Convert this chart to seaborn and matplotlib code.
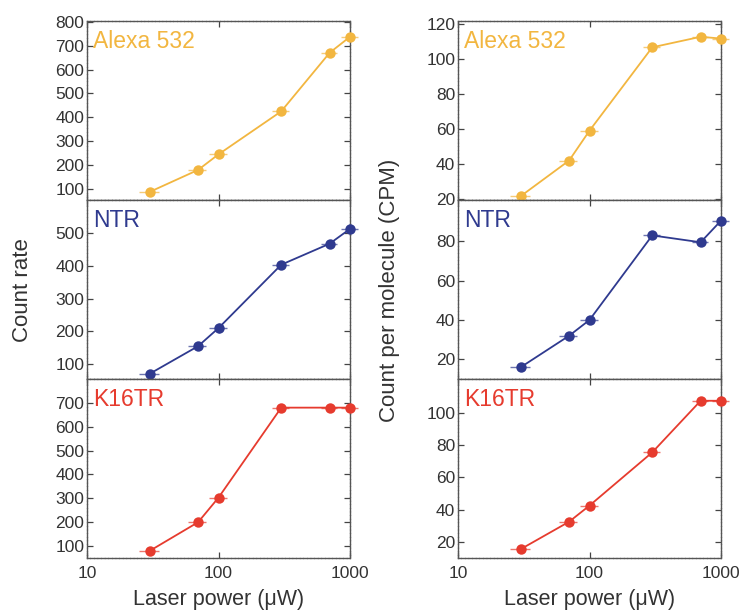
import matplotlib
matplotlib.use("Agg")
import matplotlib.pyplot as plt
import matplotlib.ticker as mticker
import seaborn as sns
import pandas as pd

# laser power (uW) and horizontal error
power = [30, 70, 100, 300, 700, 1000]
power_err = [5, 11, 16, 45, 100, 150]

dyes = ["Alexa 532", "NTR", "K16TR"]
colors = {"Alexa 532": "#f2b640", "NTR": "#2f3a8f", "K16TR": "#e63b2e"}

# count rate (left column)
rate_alexa = [88, 180, 245, 425, 670, 737]
rate_ntr = [71, 155, 210, 403, 467, 512]
rate_k16 = [80, 200, 303, 680, 680, 680]
rate_err_alexa = [5, 8, 8, 8, 10, 10]
rate_err_ntr = [6, 8, 16, 8, 8, 18]
rate_err_k16 = [6, 10, 10, 8, 8, 8]

# count per molecule (right column)
cpm_alexa = [21.7, 42, 59, 106.5, 112.5, 111.5]
cpm_ntr = [16, 32, 40, 83, 79.5, 90.5]
cpm_k16 = [15.5, 32.5, 42.5, 75.5, 107.5, 107.5]
cpm_err_alexa = [0.8, 1, 2, 1, 2, 1]
cpm_err_ntr = [1, 1, 1.5, 1.5, 1.5, 1.5]
cpm_err_k16 = [1, 1.5, 1.5, 1, 1, 1]

rate = {"Alexa 532": rate_alexa, "NTR": rate_ntr, "K16TR": rate_k16}
rate_err = {"Alexa 532": rate_err_alexa, "NTR": rate_err_ntr, "K16TR": rate_err_k16}
cpm = {"Alexa 532": cpm_alexa, "NTR": cpm_ntr, "K16TR": cpm_k16}
cpm_err = {"Alexa 532": cpm_err_alexa, "NTR": cpm_err_ntr, "K16TR": cpm_err_k16}

rate_ylim = {"Alexa 532": (54, 803), "NTR": (55, 600), "K16TR": (50, 800)}
rate_ticks = {"Alexa 532": range(100, 801, 100), "NTR": range(100, 501, 100),
              "K16TR": range(100, 701, 100)}
cpm_ylim = {"Alexa 532": (19.5, 121.5), "NTR": (10, 101), "K16TR": (10, 121)}
cpm_ticks = {"Alexa 532": range(20, 121, 20), "NTR": range(20, 81, 20),
             "K16TR": range(20, 101, 20)}

rows = []
for d in dyes:
    for i, p in enumerate(power):
        rows.append({"dye": d, "power": p, "rate": rate[d][i], "cpm": cpm[d][i]})
df = pd.DataFrame(rows)

sns.set_style("ticks")
plt.rcParams["font.family"] = ["Liberation Sans", "DejaVu Sans"]

fig = plt.figure(figsize=(7.44, 6.14), dpi=100)

W = 744.0
H = 614.0
col_left = [87 / W, 458 / W]
col_w = 263 / W
row_top = [21, 200, 379]
row_h = 179

for c, (ycol, vals, errs, ylims, yticks) in enumerate([
        ("rate", rate, rate_err, rate_ylim, rate_ticks),
        ("cpm", cpm, cpm_err, cpm_ylim, cpm_ticks)]):
    for r, d in enumerate(dyes):
        ax = fig.add_axes([col_left[c], 1 - (row_top[r] + row_h) / H, col_w, row_h / H])
        sub = df[df["dye"] == d]
        eb = ax.errorbar(power, vals[d], xerr=power_err, yerr=errs[d], fmt="none",
                         ecolor=colors[d], elinewidth=1.0, alpha=0.7, zorder=2)
        for art in eb.lines[2]:
            art.set_clip_on(False)
        sns.lineplot(data=sub, x="power", y=ycol, ax=ax, color=colors[d],
                     marker="o", markersize=7.5, markeredgewidth=0, linewidth=1.3,
                     zorder=3)
        for ln in ax.lines:
            ln.set_clip_on(False)
        ax.set_xscale("log")
        ax.set_xlim(10, 1000)
        ax.set_ylim(*ylims[d])
        ax.set_yticks(list(yticks[d]))
        ax.xaxis.set_major_locator(mticker.FixedLocator([10, 100, 1000]))
        ax.xaxis.set_minor_locator(mticker.NullLocator())
        ax.xaxis.set_major_formatter(mticker.FixedFormatter(["10", "100", "1000"]))
        ax.tick_params(direction="in", top=True, right=True, length=4, width=0.9,
                       colors="#444444", labelsize=12.5, labelcolor="#333333", pad=2)
        if r < 2:
            ax.tick_params(labelbottom=False)
        else:
            ax.tick_params(axis="x", pad=6)
        for s in ax.spines.values():
            s.set_color("#555555")
            s.set_linewidth(1.0)
            s.set_linestyle((0, (2, 0.6)))
        ax.set_xlabel("")
        ax.set_ylabel("")
        ax.text(0.022, 0.885, d, transform=ax.transAxes, color=colors[d],
                fontsize=16.5, ha="left", va="center")

fig.text(0.03, 0.527, "Count rate", rotation=90, ha="center", va="center",
         fontsize=16, color="#333333")
fig.text(0.524, 0.527, "Count per molecule (CPM)", rotation=90, ha="center",
         va="center", fontsize=16, color="#333333")
fig.text(0.294, 0.024, "Laser power (μW)", ha="center", va="center",
         fontsize=15.5, color="#333333")
fig.text(0.792, 0.024, "Laser power (μW)", ha="center", va="center",
         fontsize=15.5, color="#333333")

fig.savefig("out.png", dpi=100)
plt.close(fig)
